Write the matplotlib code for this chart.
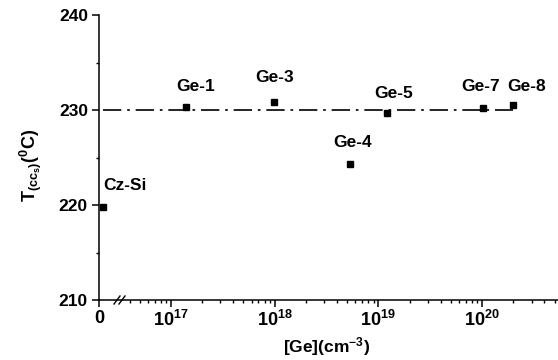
import numpy as np
import matplotlib
matplotlib.use("Agg")
import matplotlib.pyplot as plt
from matplotlib.ticker import FixedLocator, NullFormatter

plt.rcParams.update({"font.family": "Liberation Sans", "font.weight": "bold"})
plt.rcParams.update({"mathtext.fontset": "custom",
                     "mathtext.rm": "Liberation Sans",
                     "mathtext.bf": "Liberation Sans:bold",
                     "mathtext.it": "Liberation Sans:italic"})

# samples and their Ge concentration (cm^-3); Cz-Si has no Ge
samples = ["Cz-Si", "Ge-1", "Ge-3", "Ge-4", "Ge-5", "Ge-7", "Ge-8"]
ge_conc = [0, 1.4e17, 9.8e17, 5.35e18, 1.22e19, 1.02e20, 2.0e20]
t_ccs = [219.8, 230.3, 230.8, 224.3, 229.7, 230.2, 230.5]
t_ref = 230.0

# where the zero concentration sits on the broken log axis
x_lo, x_hi = 2.03e16, 5.4e20
zero_pos = 2.2e16

label_offsets = [(16, 15.5), (7, 15), (0.5, 18), (1.7, 15.4),
                 (4.3, 14.2), (-1.8, 15.4), (9.4, 13.7)]

x_plot = [zero_pos if c == 0 else c for c in ge_conc]

fig = plt.figure(figsize=(5.58, 3.6), dpi=100)
ax = fig.add_axes([99 / 558, 60 / 360, 459 / 558, 285 / 360])

ax.plot([zero_pos, ge_conc[-1]], [t_ref, t_ref], color="k", lw=1.2,
        dashes=(11, 3.5, 1.6, 3.5))
ax.plot(x_plot, t_ccs, "s", color="k", ms=5, ls="none", clip_on=False)

for name, x, y, off in zip(samples, x_plot, t_ccs, label_offsets):
    ax.annotate(name, (x, y), xytext=off, textcoords="offset points",
                ha="center", va="center", fontsize=12.5, fontweight="bold")

ax.set_xscale("log")
ax.set_xlim(x_lo, x_hi)
ax.set_ylim(210, 240)

ax.set_xticks([x_lo, 1e17, 1e18, 1e19, 1e20])
ax.set_xticklabels(["0", r"$\mathbf{10}^{17}$", r"$\mathbf{10}^{18}$",
                    r"$\mathbf{10}^{19}$", r"$\mathbf{10}^{20}$"], fontsize=13)
minors = [k * 10.0 ** n for n in range(16, 21) for k in range(2, 10)]
minors = [m for m in minors if 3.5e16 < m < x_hi]
ax.xaxis.set_minor_locator(FixedLocator(minors))
ax.xaxis.set_minor_formatter(NullFormatter())

ax.set_yticks([210, 220, 230, 240])
ax.set_yticks([215, 225, 235], minor=True)
ax.tick_params(axis="y", labelsize=12.5, pad=3)

ax.tick_params(which="major", direction="out", length=5, width=1.1)
ax.tick_params(which="minor", direction="out", length=2.5, width=1.0)
ax.tick_params(axis="x", which="major", pad=2)

for side in ["top", "right"]:
    ax.spines[side].set_visible(False)
for side in ["left", "bottom"]:
    ax.spines[side].set_linewidth(1.1)

# axis break marks
px_x, px_y = 1 / 459, 1 / 285
xb = 117 * px_x - 99 * px_x
for dx in [0, 5]:
    x0 = xb + dx * px_x
    ax.plot([x0 - 3 * px_x, x0 + 3 * px_x], [-4 * px_y, 4 * px_y],
            transform=ax.transAxes, color="k", lw=1.0, clip_on=False)

fig.text(30.5 / 558, 1 - 165 / 360,
         r"$\mathbf{T}_{\mathrm{(cc_{s})}}\mathbf{(}^{0}\mathbf{C)}$",
         rotation=90, ha="center", va="center", fontsize=13)
fig.text(327 / 558, 1 - 347 / 360, r"$\mathbf{[Ge](cm}^{-3}\mathbf{)}$",
         ha="center", va="center", fontsize=12.5)

fig.savefig("out.png", dpi=100)
